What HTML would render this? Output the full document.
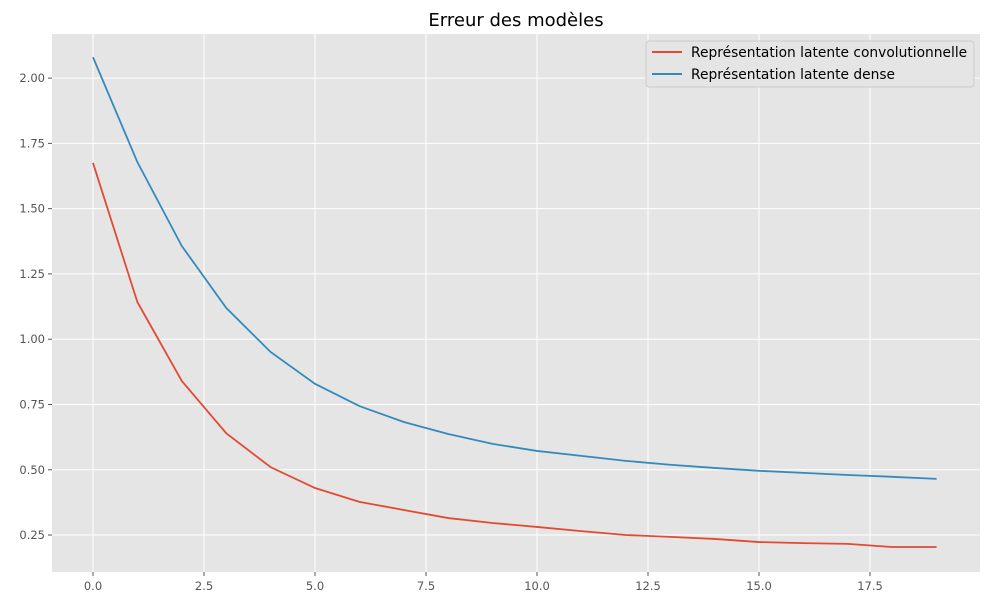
<!DOCTYPE html>
<html><head><meta charset="utf-8">
<style>
body{margin:0;background:#fff;}
svg{display:block;font-family:"DejaVu Sans","Liberation Sans",sans-serif;}
</style></head>
<body>
<svg id="chart" width="990" height="606">
<text x="516" y="26" font-size="18" text-anchor="middle" fill="#000">Erreur des modèles</text>
<rect x="52" y="34" width="928" height="538" fill="#e5e5e5"/>
<g id="grid"></g><g id="ticks"></g><g id="series"></g>
<g>
<rect x="646" y="41" width="328" height="46" rx="3" fill="#e5e5e5" stroke="#cccccc"/>
<line x1="652" y1="52" x2="682" y2="52" stroke="#E24A33" stroke-width="2"/>
<text x="691" y="57" font-size="13.8" fill="#000">Représentation latente convolutionnelle</text>
<line x1="652" y1="74" x2="682" y2="74" stroke="#348ABD" stroke-width="2"/>
<text x="691" y="79" font-size="13.8" fill="#000">Représentation latente dense</text>
</g>
</svg>
<script>
const epochs=[0,1,2,3,4,5,6,7,8,9,10,11,12,13,14,15,16,17,18,19];
const convValues=[1.675,1.142,0.84,0.64,0.51,0.43,0.377,0.346,0.315,0.296,0.281,0.265,0.25,0.243,0.235,0.223,0.219,0.216,0.204,0.204];
const denseValues=[2.08,1.678,1.357,1.12,0.951,0.829,0.744,0.683,0.637,0.599,0.572,0.553,0.534,0.519,0.507,0.496,0.488,0.48,0.473,0.465];
const xTicks=[0,2.5,5,7.5,10,12.5,15,17.5];
const yTicks=[0.25,0.5,0.75,1.0,1.25,1.5,1.75,2.0];
const NS="http://www.w3.org/2000/svg";
const xs=v=>93+v*44.4;
const ys=v=>600.3-v*261.1;
function mk(tag,attrs,parent){const e=document.createElementNS(NS,tag);for(const k in attrs)e.setAttribute(k,attrs[k]);parent.appendChild(e);return e;}
const grid=document.getElementById('grid'),ticks=document.getElementById('ticks'),series=document.getElementById('series');
xTicks.forEach(t=>{
 const g=mk('line',{x1:xs(t),x2:xs(t),y1:34,y2:572,stroke:'#fff','stroke-width':1},grid);
 
 
 const tk=mk('line',{x1:xs(t),x2:xs(t),y1:572,y2:576,stroke:'#555'},ticks);
 
 
 const l=mk('text',{x:xs(t),y:590,'font-size':11.5,'text-anchor':'middle',fill:'#555'},ticks);
 l.textContent=t.toFixed(1);
 
 
});
yTicks.forEach(t=>{
 const g=mk('line',{x1:52,x2:980,y1:ys(t),y2:ys(t),stroke:'#fff','stroke-width':1},grid);
 
 
 const tk=mk('line',{x1:48,x2:52,y1:ys(t),y2:ys(t),stroke:'#555'},ticks);
 
 
 const l=mk('text',{x:45,y:ys(t)+4,'font-size':11.5,'text-anchor':'end',fill:'#555'},ticks);
 l.textContent=t.toFixed(2);
 
 
});
function line(vals,color,name){
 const p=mk('polyline',{points:vals.map((v,i)=>xs(epochs[i])+','+ys(v)).join(' '),fill:'none',stroke:color,'stroke-width':1.8},series);
 
 
}
line(convValues,'#E24A33','conv-line');
line(denseValues,'#348ABD','dense-line');
</script>
</body></html>
